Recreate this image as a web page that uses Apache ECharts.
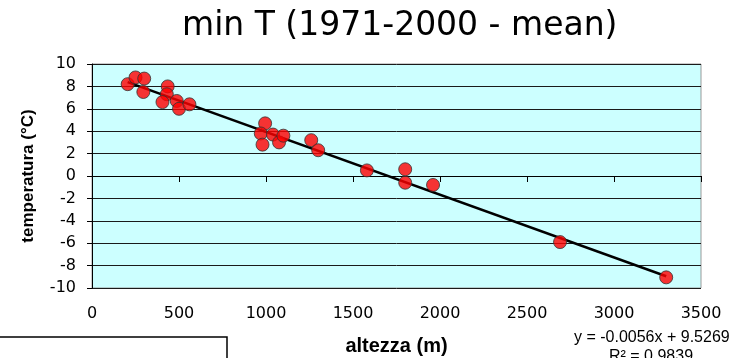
<!DOCTYPE html>
<html>
<head>
<meta charset="utf-8">
<script src="https://cdn.jsdelivr.net/npm/echarts@6/dist/echarts.min.js"></script>
<style>
  html, body { margin: 0; padding: 0; background: #fff; }
  #chart { width: 736px; height: 358px; }
</style>
</head>
<body>
<div id="chart"></div>
<script>
// altezza (m) / temperatura minima (°C)
var altezza = [205, 250, 300, 295, 435, 430, 405, 487, 500, 560, 995, 970, 980, 1040, 1075, 1100, 1260, 1300, 1580, 1800, 1800, 1960, 2690, 3300];
var tMin = [8.2, 8.8, 8.7, 7.5, 8.0, 7.3, 6.6, 6.7, 6.0, 6.4, 4.7, 3.8, 2.8, 3.7, 3.0, 3.6, 3.2, 2.3, 0.5, 0.6, -0.6, -0.8, -5.9, -9.05];

// linea di tendenza (dall'equazione riportata)
var slope = -0.0056;
var intercept = 9.5269;
var eqText = 'y = -0.0056x + 9.5269';
var r2Text = 'R² = 0.9839';

var xTicks = { min: 0, max: 3500, interval: 500 };
var yTicks = { min: -10, max: 10, interval: 2 };

var punti = altezza.map(function (a, i) { return [a, tMin[i]]; });
var xMin = Math.min.apply(null, altezza);
var xMax = Math.max.apply(null, altezza);
var trend = [[xMin, slope * xMin + intercept], [xMax, slope * xMax + intercept]];

var myChart = echarts.init(document.getElementById('chart'));
var option = {
    animation: false,
    grid: {
        left: 92, top: 64, width: 609, height: 224,
        containLabel: false,
        outerBoundsMode: 'none',
        show: true,
        backgroundColor: '#ccffff',
        borderColor: '#999',
        borderWidth: 1
    },
    xAxis: {
        type: 'value',
        min: xTicks.min, max: xTicks.max, interval: xTicks.interval,
        name: 'altezza (m)',
        nameLocation: 'middle',
        nameGap: 48,
        nameTextStyle: { fontFamily: 'Liberation Sans', fontWeight: 'bold', fontSize: 20, color: '#000' },
        axisLine: { lineStyle: { color: '#000', width: 1 } },
        axisTick: { show: true, length: 6, lineStyle: { color: '#000' } },
        axisLabel: {
            margin: 18, fontFamily: 'DejaVu Sans', fontSize: 16, color: '#000',
            formatter: function (v) { return String(v); }
        },
        splitLine: { show: false }
    },
    yAxis: {
        type: 'value',
        min: yTicks.min, max: yTicks.max, interval: yTicks.interval,
        name: 'temperatura (°C)',
        nameLocation: 'middle',
        nameGap: 55,
        nameTextStyle: { fontFamily: 'Liberation Sans', fontWeight: 'bold', fontSize: 17, color: '#000' },
        axisLine: { show: true, lineStyle: { color: '#000', width: 1 } },
        axisTick: { show: true, length: 5, lineStyle: { color: '#000' } },
        axisLabel: {
            margin: 16, fontFamily: 'DejaVu Sans', fontSize: 16, color: '#000',
            formatter: function (v) { return String(v); }
        },
        splitLine: { show: true, lineStyle: { color: '#1a1a1a', width: 1 } }
    },
    series: [
        {
            name: 'tendenza',
            type: 'line',
            data: trend,
            symbol: 'none',
            lineStyle: { color: '#000', width: 2.5 },
            z: 2
        },
        {
            name: 'min T',
            type: 'scatter',
            data: punti,
            symbol: 'circle',
            symbolSize: 13,
            itemStyle: { color: '#ff0000', borderColor: '#333', borderWidth: 1 },
            z: 3
        }
    ],
    graphic: [
        {
            type: 'text', left: 182, top: 10,
            style: { text: 'min T (1971-2000 - mean)', fontFamily: 'DejaVu Sans', fontSize: 33, fill: '#000' }
        },
        {
            type: 'rect', shape: { x: -3, y: 337, width: 230, height: 40 },
            style: { fill: '#fff', stroke: '#000', lineWidth: 1.5 }
        },
        {
            type: 'text', left: 574, top: 330,
            style: { text: eqText, fontFamily: 'Liberation Sans', fontSize: 16, fill: '#000' }
        },
        {
            type: 'text', left: 609, top: 349,
            style: { text: r2Text, fontFamily: 'Liberation Sans', fontSize: 16, fill: '#000' }
        }
    ]
};
myChart.setOption(option);
</script>
</body>
</html>
